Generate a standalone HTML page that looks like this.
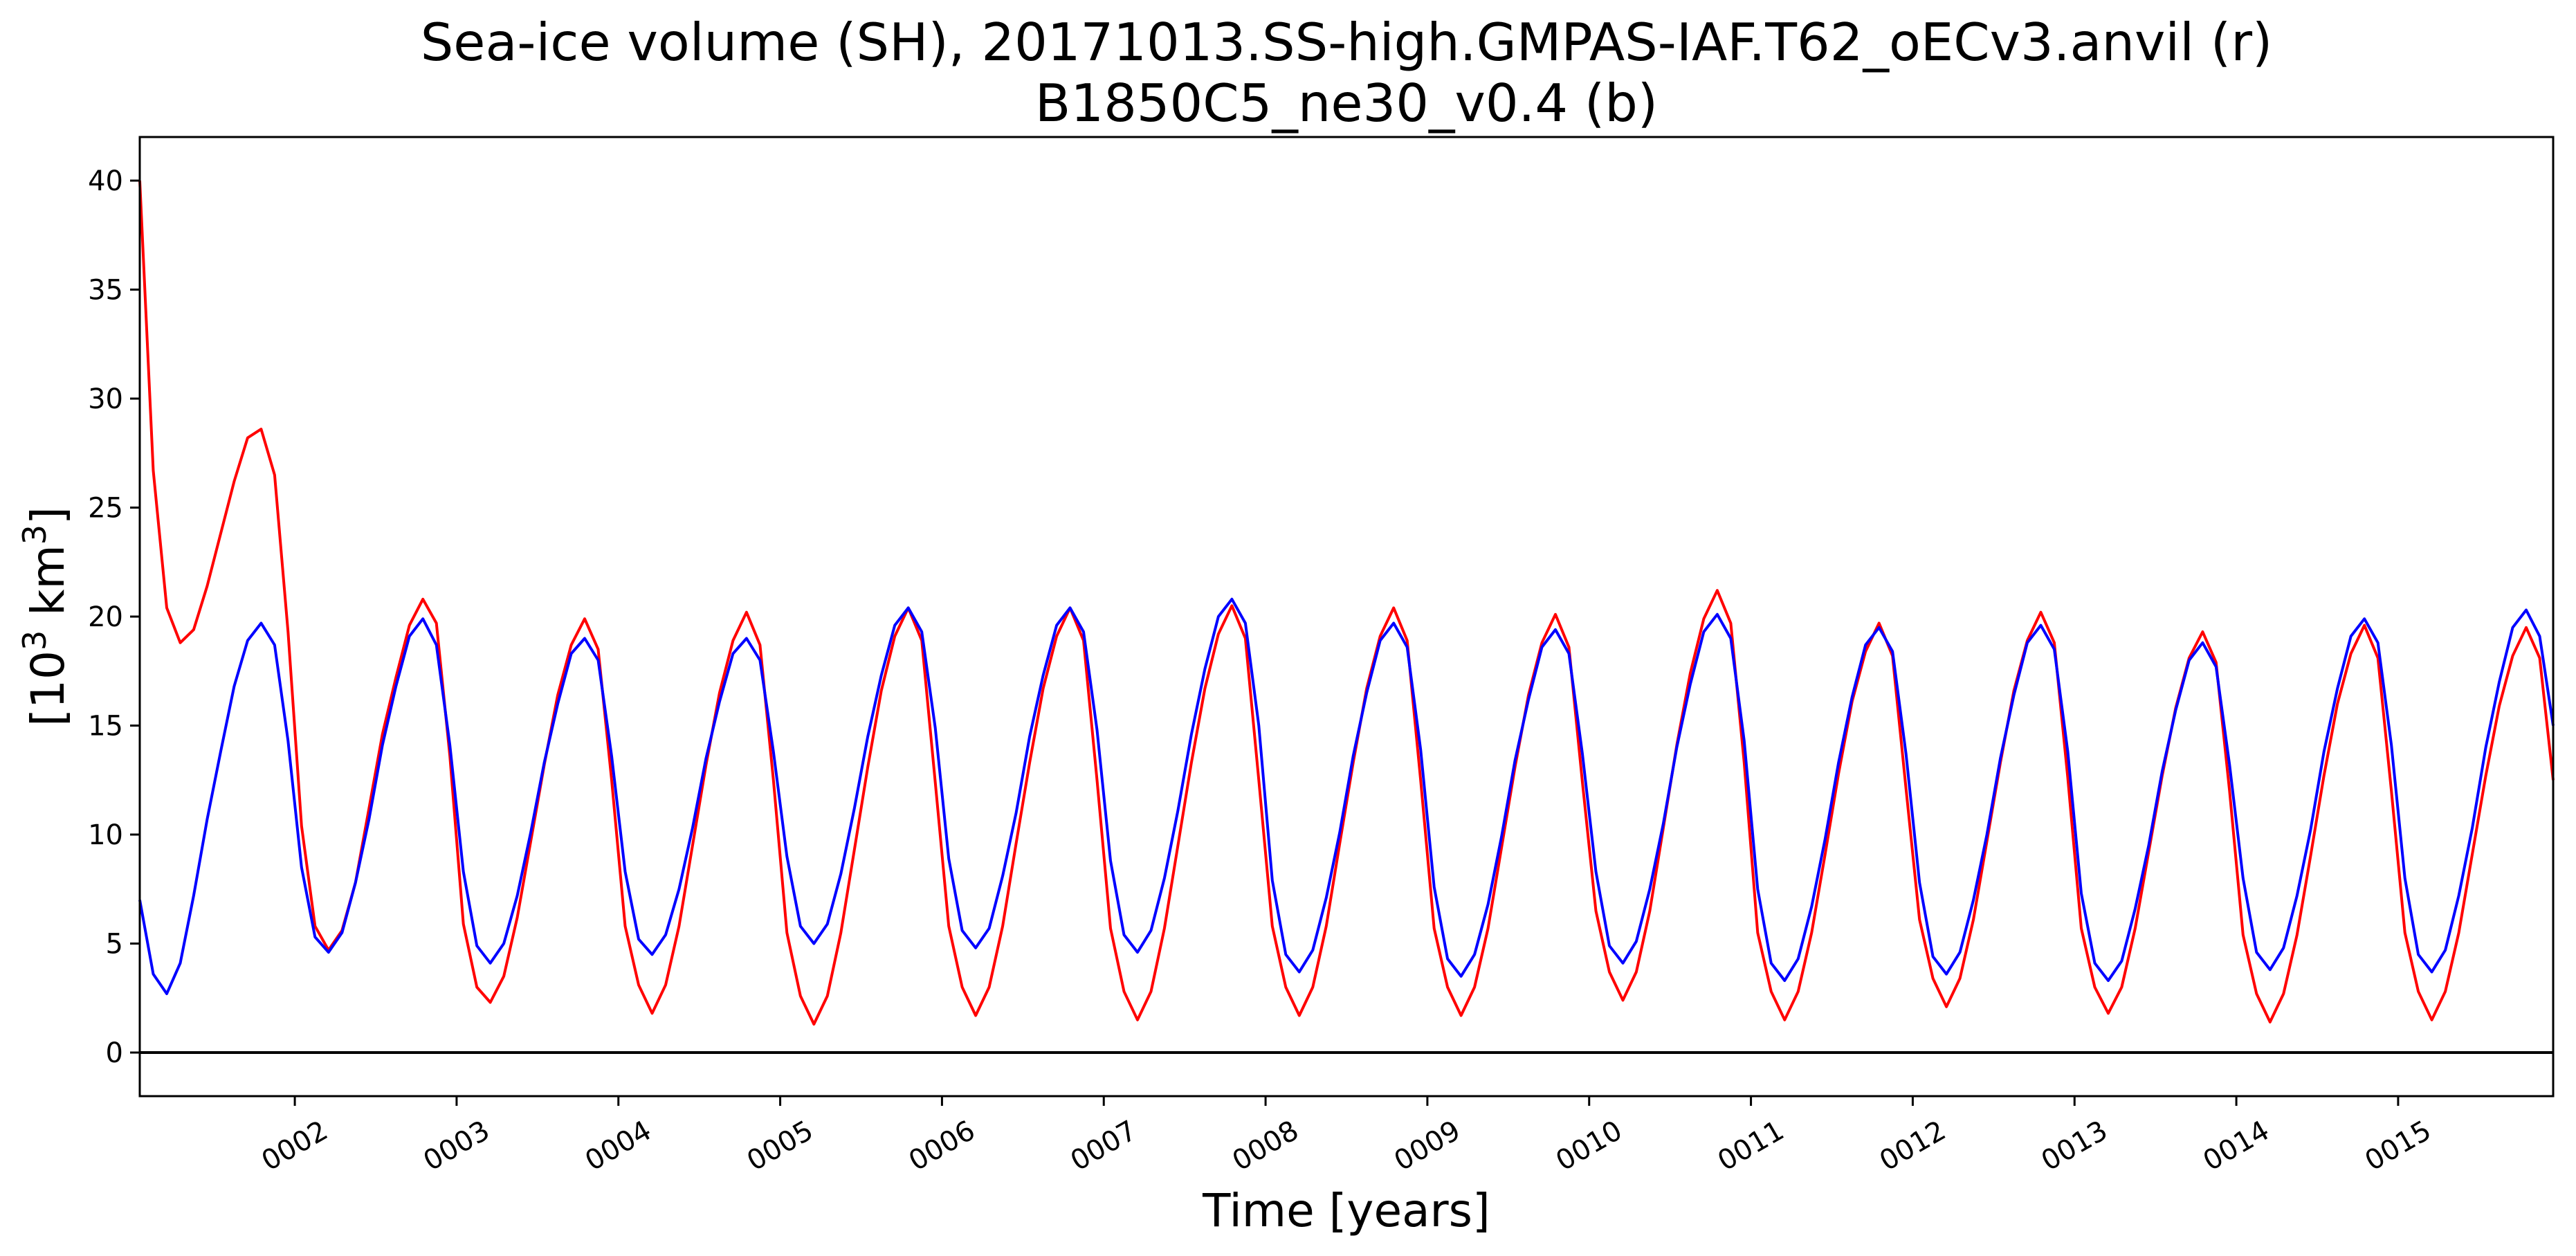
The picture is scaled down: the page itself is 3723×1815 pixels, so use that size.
<!DOCTYPE html>
<html><head><meta charset="utf-8"><style>
html,body{margin:0;padding:0;background:#fff;}
svg{display:block;font-family:"DejaVu Sans","Liberation Sans",sans-serif;}
</style></head><body>
<svg id="chart" width="3723" height="1815" viewBox="0 0 3723 1815" xmlns="http://www.w3.org/2000/svg">
<rect width="3723" height="1815" fill="#fff"/>
<text x="1946" y="87" font-size="75" text-anchor="middle">Sea-ice volume (SH), 20171013.SS-high.GMPAS-IAF.T62_oECv3.anvil (r)</text>
<text x="1946" y="175" font-size="75" text-anchor="middle">B1850C5_ne30_v0.4 (b)</text>
<g id="plot"></g>
<text x="1946" y="1772" font-size="66" text-anchor="middle">Time [years]</text>
<text transform="translate(92,891) rotate(-90)" font-size="66" text-anchor="middle">[10<tspan font-size="46" dy="-26">3</tspan><tspan dy="26"> km</tspan><tspan font-size="46" dy="-26">3</tspan><tspan dy="26">]</tspan></text>
</svg>
<script>
const yTicks = [0,5,10,15,20,25,30,35,40];
const xTickLabels = ["0002","0003","0004","0005","0006","0007","0008","0009","0010","0011","0012","0013","0014","0015"];
const redSeries = [
40.0,26.7,20.4,18.8,19.4,21.4,23.8,26.2,28.2,28.6,26.5,19.3,
10.4,5.8,4.7,5.6,7.8,11.2,14.6,17.2,19.6,20.8,19.7,13.6,
5.9,3.0,2.3,3.5,6.2,9.7,13.2,16.4,18.7,19.9,18.5,12.5,
5.8,3.1,1.8,3.1,5.8,9.5,13.2,16.5,18.9,20.2,18.7,12.5,
5.5,2.6,1.3,2.6,5.5,9.3,13.1,16.6,19.1,20.4,18.9,12.4,
5.8,3.0,1.7,3.0,5.8,9.6,13.3,16.7,19.1,20.4,18.9,12.5,
5.7,2.8,1.5,2.8,5.7,9.5,13.3,16.7,19.2,20.5,19.0,12.5,
5.8,3.0,1.7,3.0,5.8,9.6,13.3,16.7,19.1,20.4,18.9,12.5,
5.7,3.0,1.7,3.0,5.7,9.4,13.1,16.4,18.8,20.1,18.6,12.4,
6.5,3.7,2.4,3.7,6.5,10.3,14.1,17.4,19.9,21.2,19.7,13.3,
5.5,2.8,1.5,2.8,5.5,9.1,12.8,16.1,18.4,19.7,18.2,12.1,
6.1,3.4,2.1,3.4,6.1,9.7,13.3,16.6,18.9,20.2,18.8,12.6,
5.7,3.0,1.8,3.0,5.7,9.2,12.7,15.8,18.1,19.3,17.9,12.0,
5.4,2.7,1.4,2.7,5.4,9.0,12.7,16.0,18.3,19.6,18.1,12.0,
5.5,2.8,1.5,2.8,5.5,9.1,12.7,15.9,18.2,19.5,18.1,12.5];
const blueSeries = [
7.0,3.6,2.7,4.1,7.2,10.7,13.8,16.8,18.9,19.7,18.7,14.3,
8.5,5.3,4.6,5.5,7.8,10.7,14.1,16.8,19.1,19.9,18.7,14.1,
8.3,4.9,4.1,5.0,7.2,10.1,13.3,16.0,18.3,19.0,18.0,13.6,
8.3,5.2,4.5,5.4,7.5,10.3,13.5,16.1,18.3,19.0,18.0,13.8,
9.0,5.8,5.0,5.9,8.2,11.2,14.5,17.3,19.6,20.4,19.3,14.9,
8.9,5.6,4.8,5.7,8.1,11.0,14.5,17.3,19.6,20.4,19.3,14.8,
8.8,5.4,4.6,5.6,8.0,11.1,14.6,17.6,20.0,20.8,19.7,15.0,
7.9,4.5,3.7,4.7,7.1,10.1,13.6,16.5,18.9,19.7,18.6,13.9,
7.6,4.3,3.5,4.5,6.8,9.9,13.4,16.2,18.6,19.4,18.3,13.7,
8.3,4.9,4.1,5.1,7.5,10.5,14.0,16.9,19.3,20.1,19.0,14.3,
7.5,4.1,3.3,4.3,6.7,9.8,13.3,16.3,18.7,19.5,18.4,13.7,
7.8,4.4,3.6,4.6,7.0,10.0,13.5,16.4,18.8,19.6,18.5,13.8,
7.3,4.1,3.3,4.2,6.6,9.5,12.9,15.7,18.0,18.8,17.7,13.2,
8.0,4.6,3.8,4.8,7.2,10.2,13.8,16.7,19.1,19.9,18.8,14.1,
8.0,4.5,3.7,4.7,7.2,10.3,14.0,17.0,19.5,20.3,19.1,15.0];

const NS='http://www.w3.org/2000/svg';
const L=202,R=3690,T=198,B=1584;
const xMin=1+1/24,xMax=16-1/24,yMin=-2,yMax=42;
function xs(t){return L+(t-xMin)/(xMax-xMin)*(R-L);}
function ys(v){return B-(v-yMin)/(yMax-yMin)*(B-T);}
function tOf(i){return 1+(i+0.5)/12;}
const g=document.getElementById('plot');
function mk(tag,attrs){const e=document.createElementNS(NS,tag);for(const k in attrs)e.setAttribute(k,attrs[k]);g.appendChild(e);return e;}

const z=mk('line',{x1:L,x2:R,y1:ys(0),y2:ys(0),stroke:'#000','stroke-width':4});



function series(vals,color,name){
  const pts=vals.map((v,i)=>xs(tOf(i)).toFixed(1)+','+ys(v).toFixed(1)).join(' ');
  const p=mk('polyline',{points:pts,fill:'none',stroke:color,'stroke-width':4,'stroke-linejoin':'round'});
  
  
}
series(redSeries,'#ff0000','red-series-line');
series(blueSeries,'#0000ff','blue-series-line');

const f=mk('rect',{x:L,y:T,width:R-L,height:B-T,fill:'none',stroke:'#000','stroke-width':3});



yTicks.forEach(v=>{
  const y=ys(v);
  const tk=mk('line',{x1:L-14,x2:L,y1:y,y2:y,stroke:'#000','stroke-width':3});
  
  
  const tx=mk('text',{x:L-24,y:y+14,'font-size':40,'text-anchor':'end'});
  tx.textContent=String(v);
  
  
});
xTickLabels.forEach((lab,i)=>{
  const x=xs(2+i);
  const tk=mk('line',{x1:x,x2:x,y1:B,y2:B+14,stroke:'#000','stroke-width':3});
  
  
  const tx=mk('text',{x:0,y:0,'font-size':40,'text-anchor':'middle','dominant-baseline':'central',transform:'translate('+x+',1656) rotate(-30)'});
  tx.textContent=lab;
  
  
});
</script>
</body></html>
